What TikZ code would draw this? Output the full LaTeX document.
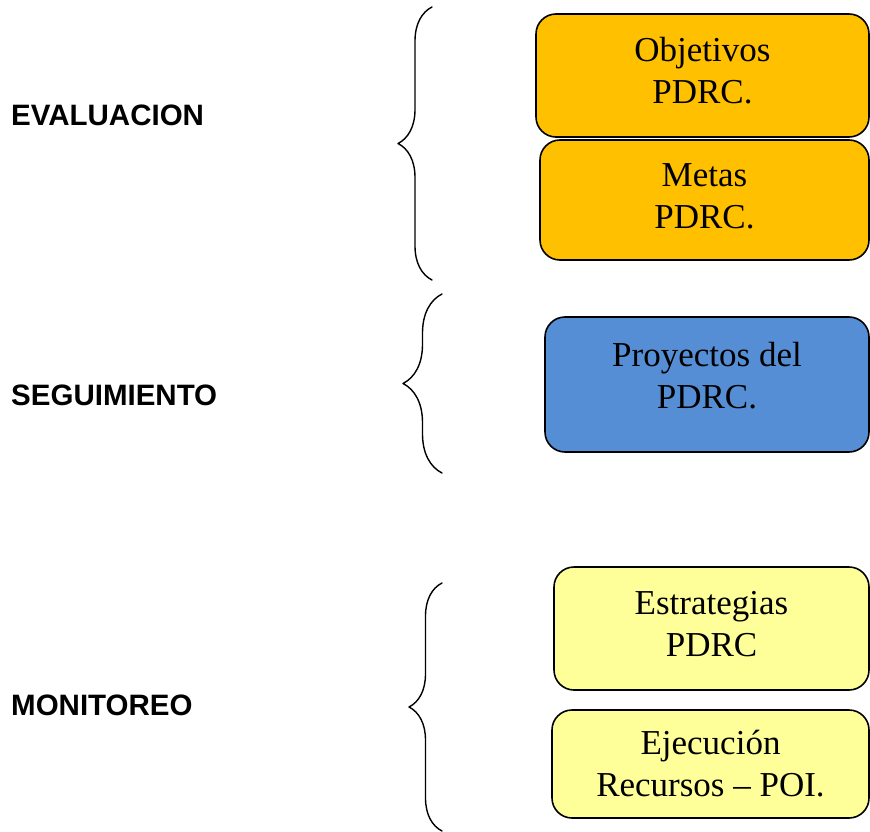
\documentclass[tikz,border=0pt]{standalone}
\usepackage{fontspec}
\setmainfont{Liberation Serif}
\setsansfont{Liberation Sans}
\usepackage{tikz}
\usetikzlibrary{
  arrows.meta,              % 箭头样式
  calc,                     % 坐标计算
  decorations.pathreplacing,% 大括号装饰
  positioning               % 节点相对定位
}
\definecolor{cajaNaranja}{HTML}{FFC000}
\definecolor{cajaAzul}{HTML}{558ED5}
\definecolor{cajaAmarilla}{HTML}{FFFF99}
% 框内两行文字，可整体上下移动（不占高度）
\newcommand{\dosLineas}[2]{\raisebox{#1}[0pt][0pt]{\begin{tabular}{@{}c@{}}#2\end{tabular}}}

\begin{document}
\begin{tikzpicture}[x=1pt, y=-1pt, line join=round, line cap=round]
  % 统一设置：圆角框、左侧标题、大括号
  \tikzset{
    caja/.style={draw=black, line width=1.6pt, rounded corners=20pt,
      align=center, inner sep=0pt, font=\fontsize{35}{42}\selectfont},
    titulo/.style={anchor=west, inner sep=0pt,
      font=\sffamily\bfseries\fontsize{29.5}{32}\selectfont},
    llave/.style={draw=black, line width=1.4pt, decorate}
  }
  \useasboundingbox (0,0) rectangle (870,832);

  % =======================
  % 第一组：EVALUACION
  % =======================
  \node[titulo] (eval) at (11,115) {EVALUACION};
  \draw[llave, decoration={brace, amplitude=34pt}] (432,280) -- (432,7);
  \node[caja, fill=cajaNaranja, minimum width=333pt, minimum height=123pt]
    (objetivos) at (702.5,75.5) {\dosLineas{-5pt}{Objetivos\\PDRC.}};
  \node[caja, fill=cajaNaranja, minimum width=329pt, minimum height=120pt]
    (metas) at (704.5,200) {\dosLineas{-5pt}{Metas\\PDRC.}};

  % =======================
  % 第二组：SEGUIMIENTO
  % =======================
  \node[titulo] (segui) at (11,395) {SEGUIMIENTO};
  \draw[llave, decoration={brace, amplitude=39pt}] (442,473) -- (442,294);
  \node[caja, fill=cajaAzul, minimum width=324pt, minimum height=135pt]
    (proyectos) at (707,384.5) {\dosLineas{-1pt}{Proyectos del\\PDRC.}};

  % =======================
  % 第三组：MONITOREO
  % =======================
  \node[titulo] (monit) at (11,705) {MONITOREO};
  \draw[llave, decoration={brace, amplitude=33pt}] (442,831) -- (442,583);
  \node[caja, fill=cajaAmarilla, minimum width=315pt, minimum height=123pt]
    (estrategias) at (711.5,628.5) {\dosLineas{-5pt}{Estrategias\\PDRC}};
  \node[caja, fill=cajaAmarilla, minimum width=317pt, minimum height=108pt]
    (ejecucion) at (710.5,764) {\dosLineas{-9pt}{Ejecución\\Recursos -- POI.}};

\end{tikzpicture}
\end{document}
